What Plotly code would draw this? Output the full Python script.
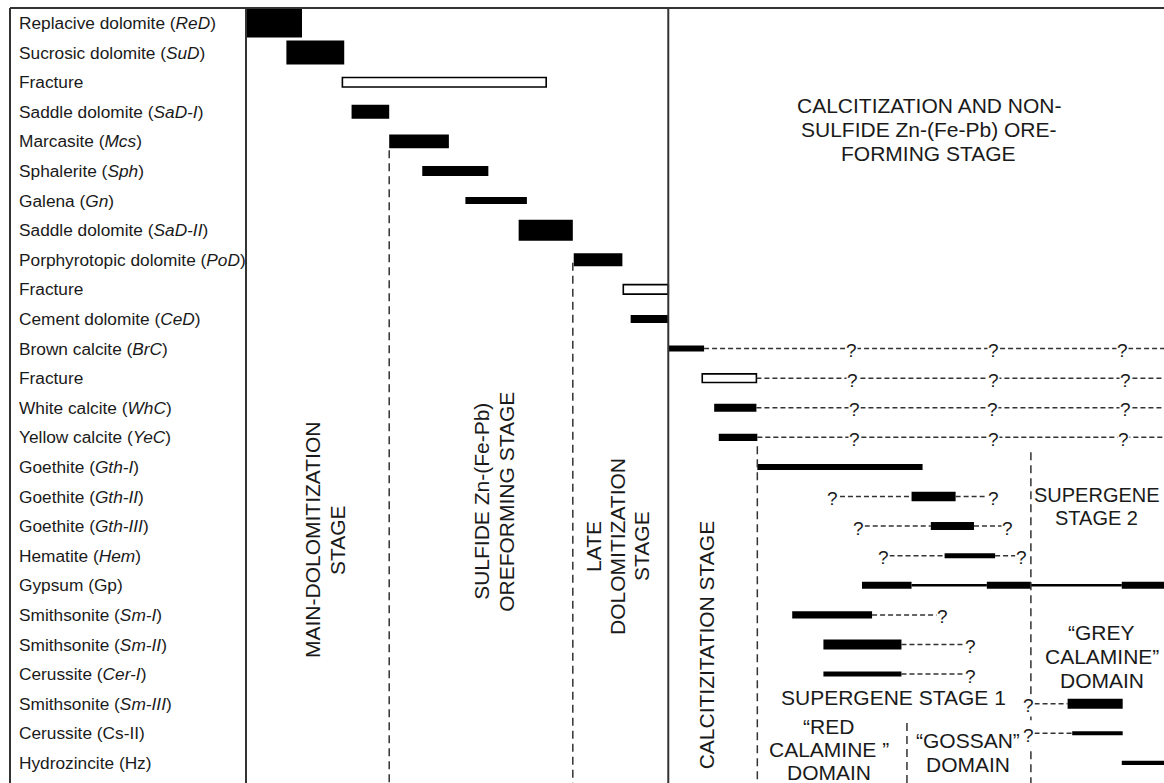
import plotly.graph_objects as go

# Mineral phases, listed in paragenetic order (one row each)
minerals = [
    "Replacive dolomite (<i>ReD</i>)",
    "Sucrosic dolomite (<i>SuD</i>)",
    "Fracture",
    "Saddle dolomite (<i>SaD-I</i>)",
    "Marcasite (<i>Mcs</i>)",
    "Sphalerite (<i>Sph</i>)",
    "Galena (<i>Gn</i>)",
    "Saddle dolomite (<i>SaD-II</i>)",
    "Porphyrotopic dolomite (<i>PoD</i>)",
    "Fracture",
    "Cement dolomite (<i>CeD</i>)",
    "Brown calcite (<i>BrC</i>)",
    "Fracture",
    "White calcite (<i>WhC</i>)",
    "Yellow calcite (<i>YeC</i>)",
    "Goethite (<i>Gth-I</i>)",
    "Goethite (<i>Gth-II</i>)",
    "Goethite (<i>Gth-III</i>)",
    "Hematite (<i>Hem</i>)",
    "Gypsum (Gp)",
    "Smithsonite (<i>Sm-I</i>)",
    "Smithsonite (<i>Sm-II</i>)",
    "Cerussite (<i>Cer-I</i>)",
    "Smithsonite (<i>Sm-III</i>)",
    "Cerussite (Cs-II)",
    "Hydrozincite (Hz)",
]

# Precipitation intervals on a relative time scale (0-100);
# abundance = relative bar thickness (fraction of a row)
bar_row = [0, 1, 3, 4, 5, 6, 7, 8, 10, 11,
           13, 14, 15, 16, 17, 18,
           19, 19, 19, 19, 19,
           20, 21, 22, 23, 24, 25]
bar_start = [0.0, 4.4, 11.5, 15.6, 19.2, 23.9, 29.7, 35.7, 41.9, 46.0,
             51.0, 51.5, 55.7, 72.5, 74.6, 76.1,
             67.1, 72.5, 80.7, 85.5, 95.4,
             59.5, 62.9, 62.9, 89.5, 90.0, 95.4]
bar_end = [6.1, 10.7, 15.6, 22.1, 26.4, 30.6, 35.6, 41.0, 46.0, 49.9,
           55.6, 55.7, 73.7, 77.3, 79.3, 81.6,
           72.5, 80.7, 85.5, 95.4, 100.0,
           68.2, 71.4, 71.4, 95.5, 95.5, 100.0]
bar_abund = [0.98, 0.81, 0.47, 0.47, 0.34, 0.24, 0.71, 0.44, 0.27, 0.20,
             0.27, 0.24, 0.20, 0.32, 0.27, 0.17,
             0.24, 0.085, 0.24, 0.085, 0.24,
             0.24, 0.34, 0.17, 0.34, 0.14, 0.14]

# Fracturing events (open bars)
frac_row = [2, 9, 12]
frac_start = [10.5, 41.1, 49.7]
frac_end = [32.7, 46.0, 55.6]
frac_abund = [0.32, 0.32, 0.29]

# Uncertain continuation of a phase (dashed)
dash_row = [11, 12, 13, 14, 16, 16, 17, 17, 18, 18, 20, 21, 22, 23, 24]
dash_start = [49.9, 55.6, 55.6, 55.7, 64.7, 77.3, 67.4, 79.3, 70.1, 81.6,
              68.2, 71.4, 71.4, 85.9, 85.9]
dash_end = [100.0, 100.0, 100.0, 100.0, 72.5, 80.7, 74.6, 82.5, 76.1, 83.8,
            75.3, 78.3, 78.3, 89.5, 90.0]

# Question marks along uncertain intervals
query_row = [11, 11, 11, 12, 12, 12, 13, 13, 13, 14, 14, 14,
             16, 16, 17, 17, 18, 18, 20, 21, 22, 23, 24]
query_t = [66.0, 81.4, 95.5, 66.1, 81.4, 95.8, 66.3, 81.3, 95.8, 66.3, 81.4, 95.6,
           63.9, 81.4, 66.7, 83.0, 69.4, 84.5, 75.9, 78.9, 78.9, 85.2, 85.2]

# Stage / domain boundaries (dashed verticals): time and first row reached
boundary_t = [15.6, 35.6, 55.7, 85.5, 72.0]
boundary_top = [4.3, 8.1, 14.3, 14.5, 23.65]
main_boundary_t = 46.0

Y_TOP, Y_BOTTOM = -0.507, 25.68
FONT = "Liberation Sans, Arial, sans-serif"
INK = "#1a1a1a"
LINE = "#333333"

fig = go.Figure()

fig.add_trace(go.Bar(
    orientation="h", y=bar_row, base=bar_start,
    x=[e - s for s, e in zip(bar_start, bar_end)],
    width=bar_abund, marker=dict(color="black", line=dict(width=0)),
    hoverinfo="skip",
))
fig.add_trace(go.Bar(
    orientation="h", y=frac_row, base=frac_start,
    x=[e - s for s, e in zip(frac_start, frac_end)],
    width=frac_abund, marker=dict(color="white", line=dict(color="black", width=1.6)),
    hoverinfo="skip",
))

dx, dy = [], []
for r, s, e in zip(dash_row, dash_start, dash_end):
    dx += [s, e, None]
    dy += [r, r, None]
fig.add_trace(go.Scatter(x=dx, y=dy, mode="lines",
                         line=dict(color=LINE, width=1.5, dash="5px,3px"),
                         hoverinfo="skip"))

vx, vy = [], []
for t, top in zip(boundary_t, boundary_top):
    vx += [t, t, None]
    vy += [top, Y_BOTTOM, None]
fig.add_trace(go.Scatter(x=vx, y=vy, mode="lines",
                         line=dict(color=LINE, width=1.5, dash="8px,5px"),
                         hoverinfo="skip"))

annotations = []
for i, name in enumerate(minerals):
    annotations.append(dict(
        text=name, xref="paper", yref="y", x=(17 - 246) / 918, y=i,
        xanchor="left", yanchor="middle", showarrow=False,
        font=dict(family=FONT, size=17.3, color=INK),
    ))

for r, t in zip(query_row, query_t):
    annotations.append(dict(
        text="?", xref="x", yref="y", x=t, y=r, showarrow=False,
        bgcolor="white", borderpad=0, yshift=-2,
        font=dict(family=FONT, size=19, color=INK),
    ))

# Stage and domain captions: lines, centre (time, row), angle, line pitch (px), size
stage_text = [
    (["CALCITIZATION AND NON-", "SULFIDE Zn-(Fe-Pb) ORE-", "FORMING STAGE"], 74.4, 3.61, 0, 24, 21),
    (["MAIN-DOLOMITIZATION", "STAGE"], 8.55, 17.47, -90, 25, 21),
    (["SULFIDE Zn-(Fe-Pb)", "OREFORMING STAGE"], 27.07, 16.18, -90, 25, 21),
    (["LATE", "DOLOMITIZATION", "STAGE"], 40.52, 17.67, -90, 24, 21),
    (["CALCITIZITATION STAGE"], 50.2, 21.0, -90, 24, 21),
    (["SUPERGENE", "STAGE 2"], 92.7, 16.33, 0, 23, 20),
    (["\u201cGREY", "CALAMINE\u201d", "DOMAIN"], 93.2, 21.42, 0, 24, 21),
    (["SUPERGENE STAGE 1"], 70.5, 22.8, 0, 24, 21),
    (["\u201cRED", "CALAMINE \u201d", "DOMAIN"], 63.5, 24.56, 0, 23, 21),
    (["\u201cGOSSAN\u201d", "DOMAIN"], 78.6, 24.66, 0, 24, 21),
]
for lines, x, y, ang, pitch, size in stage_text:
    n = len(lines)
    for k, line in enumerate(lines):
        off = (k - (n - 1) / 2) * pitch
        annotations.append(dict(
            text=line, xref="x", yref="y", x=x, y=y, showarrow=False,
            textangle=ang, xanchor="center", yanchor="middle",
            xshift=off if ang else 0, yshift=0 if ang else -off,
            font=dict(family=FONT, size=size, color=INK),
        ))

left_edge = (10 - 246) / 918
shapes = [
    dict(type="line", xref="paper", yref="paper", x0=left_edge, x1=1, y0=1, y1=1,
         line=dict(color=LINE, width=2)),
    dict(type="line", xref="paper", yref="paper", x0=left_edge, x1=left_edge, y0=0, y1=1,
         line=dict(color=LINE, width=2)),
    dict(type="line", xref="paper", yref="paper", x0=0, x1=0, y0=0, y1=1,
         line=dict(color=LINE, width=2)),
    dict(type="line", xref="x", yref="paper", x0=main_boundary_t, x1=main_boundary_t,
         y0=0, y1=1, line=dict(color=LINE, width=2)),
]

fig.update_layout(
    width=1164, height=783,
    margin=dict(l=246, r=0, t=8, b=0, pad=0),
    paper_bgcolor="white", plot_bgcolor="white",
    barmode="overlay", showlegend=False, hovermode=False,
    xaxis=dict(range=[0, 100], visible=False, fixedrange=True),
    yaxis=dict(range=[Y_BOTTOM, Y_TOP], visible=False, fixedrange=True),
    annotations=annotations, shapes=shapes,
)

fig.write_html("out.html", config={"displayModeBar": False})
